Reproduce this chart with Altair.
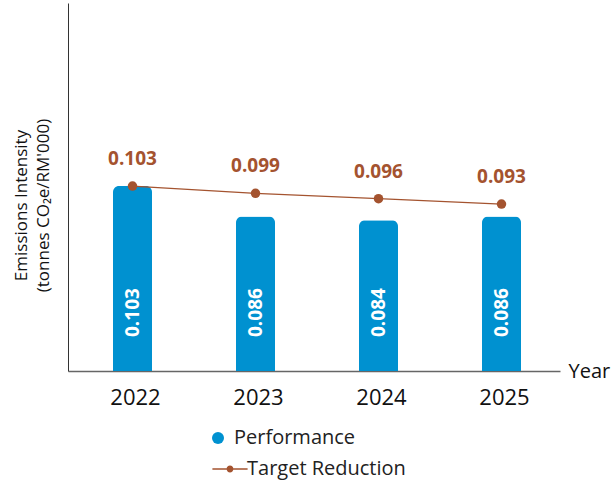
import altair as alt
import pandas as pd

years = ["2022", "2023", "2024", "2025"]
performance = [0.103, 0.086, 0.084, 0.086]
target = [0.103, 0.099, 0.096, 0.093]

BLUE = "#0091D0"
BROWN = "#A4532F"
FONT = "Open Sans"
SHIFT = 3

df = pd.DataFrame({
    "year": years,
    "performance": performance,
    "target": target,
    "perf_series": ["Performance"] * len(years),
    "target_series": ["Target Reduction"] * len(years),
})

x_enc = alt.X(
    "year:N",
    scale=alt.Scale(paddingInner=0, paddingOuter=0),
    axis=alt.Axis(
        title="Year", titleX=500, titleY=0, titleAlign="left", titleBaseline="middle",
        titleFontSize=20, titleFontWeight="normal", titleColor="#111", titleFont=FONT,
        labelAngle=0, labelFontSize=22, labelColor="#111", labelFont=FONT, labelPadding=16,
        labelOffset=6,
        ticks=False, domainColor="#666", domainWidth=1.5, grid=False,
    ),
)
y_scale = alt.Scale(domain=[0, 0.205], nice=False, zero=True)
y_axis = alt.Axis(
    title=["Emissions Intensity", "(tonnes CO₂e/RM'000)"],
    titleFontSize=17, titleFontWeight="normal", titleColor="#111", titleFont=FONT,
    titleAngle=270, titleX=-47, titleY=202, titleAlign="center", titleBaseline="middle",
    titleLineHeight=22,
    labels=False, ticks=False, grid=False, domainColor="#333", domainWidth=1,
)

base = alt.Chart(df)

bars = base.mark_bar(size=39, cornerRadiusTopLeft=6, cornerRadiusTopRight=6, xOffset=SHIFT).encode(
    x=x_enc,
    y=alt.Y("performance:Q", scale=y_scale, axis=y_axis),
    color=alt.Color(
        "perf_series:N",
        scale=alt.Scale(domain=["Performance"], range=[BLUE]),
        legend=alt.Legend(
            title=None, orient="none", legendX=140, legendY=425,
            symbolType="circle", symbolSize=144, symbolStrokeWidth=0,
            labelOffset=6, labelFontSize=20, labelFont=FONT, labelColor="#222", padding=0,
        ),
    ),
)

bar_labels = base.mark_text(
    angle=270, align="left", baseline="middle", color="white",
    fontSize=19, fontWeight="bold", font=FONT, yOffset=-34, xOffset=SHIFT,
).encode(
    x="year:N",
    y=alt.datum(0),
    text=alt.Text("performance:Q", format=".3f"),
)

line = base.mark_line(color=BROWN, strokeWidth=1.3, xOffset=SHIFT).encode(
    x="year:N",
    y=alt.Y("target:Q", scale=y_scale),
)

legend_path = "M-4.4,-0.17H4.4V0.17H-4.4Z M0,-0.85A0.85,0.85 0 1,1 0,0.85A0.85,0.85 0 1,1 0,-0.85Z"

points = base.mark_point(filled=True, size=90, opacity=1, xOffset=SHIFT).encode(
    x="year:N",
    y=alt.Y("target:Q", scale=y_scale),
    fill=alt.Fill(
        "target_series:N",
        scale=alt.Scale(domain=["Target Reduction"], range=[BROWN]),
        legend=alt.Legend(
            title=None, orient="none", legendX=152, legendY=456,
            symbolType=legend_path, symbolSize=64, symbolStrokeWidth=0,
            labelOffset=7, labelFontSize=20, labelFont=FONT, labelColor="#222", padding=0,
        ),
    ),
)

point_labels = base.mark_text(
    baseline="alphabetic", align="center", dy=-21, color=BROWN,
    fontSize=19, fontWeight="bold", font=FONT, xOffset=SHIFT,
).encode(
    x="year:N",
    y=alt.Y("target:Q", scale=y_scale),
    text=alt.Text("target:Q", format=".3f"),
)

chart = alt.layer(bars, bar_labels, line, points, point_labels).properties(
    width=492, height=368,
    padding={"left": 68, "top": 3, "right": 55, "bottom": 111},
    autosize=alt.AutoSizeParams(type="none"),
).configure_view(stroke=None)

chart.save("out.html", embed_options={"renderer": "svg", "actions": False})
